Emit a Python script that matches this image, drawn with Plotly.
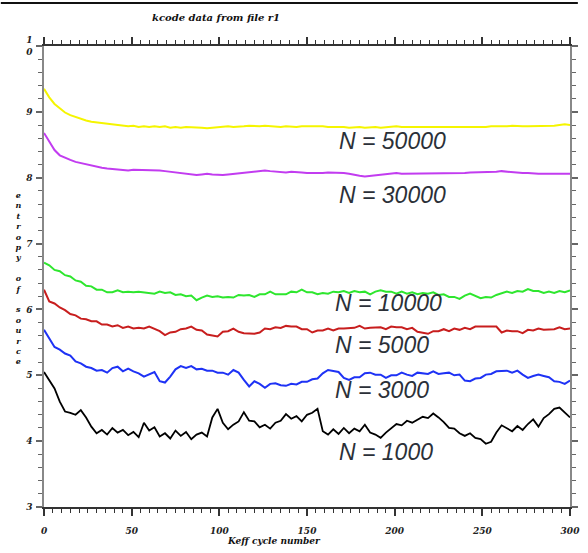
import plotly.graph_objects as go

# Keff cycle numbers at which the source entropy is sampled
cycles = list(range(0, 301, 3))

# Shannon entropy of the fission source, one list per histories-per-cycle setting
entropy_50000 = [
    9.35, 9.22, 9.12, 9.05, 8.99, 8.95, 8.92, 8.89, 8.87, 8.85, 8.84, 8.82, 8.81, 8.80,
    8.80, 8.79, 8.78, 8.79, 8.77, 8.78, 8.77, 8.78, 8.77, 8.78, 8.76, 8.77, 8.76, 8.77,
    8.77, 8.76, 8.76, 8.75, 8.76, 8.77, 8.77, 8.78, 8.77, 8.77, 8.78, 8.79, 8.78, 8.78,
    8.79, 8.78, 8.78, 8.77, 8.78, 8.77, 8.77, 8.78, 8.78, 8.79, 8.78, 8.78, 8.77, 8.77,
    8.78, 8.77, 8.76, 8.77, 8.77, 8.76, 8.77, 8.77, 8.76, 8.77, 8.78, 8.78, 8.77, 8.77,
    8.77, 8.76, 8.77, 8.77, 8.77, 8.76, 8.76, 8.77, 8.77, 8.76, 8.76, 8.76, 8.77, 8.77,
    8.77, 8.78, 8.78, 8.77, 8.78, 8.79, 8.78, 8.78, 8.78, 8.78, 8.79, 8.79, 8.79, 8.79,
    8.80, 8.81, 8.80,
]
entropy_30000 = [
    8.68, 8.55, 8.42, 8.34, 8.30, 8.27, 8.24, 8.22, 8.21, 8.18, 8.16, 8.15, 8.14, 8.13,
    8.12, 8.12, 8.11, 8.12, 8.12, 8.11, 8.11, 8.12, 8.11, 8.10, 8.09, 8.08, 8.07, 8.06,
    8.05, 8.04, 8.05, 8.06, 8.05, 8.04, 8.04, 8.05, 8.06, 8.06, 8.07, 8.08, 8.09, 8.10,
    8.11, 8.10, 8.09, 8.08, 8.08, 8.09, 8.09, 8.08, 8.07, 8.07, 8.06, 8.07, 8.08, 8.08,
    8.07, 8.07, 8.06, 8.04, 8.03, 8.02, 8.03, 8.04, 8.04, 8.05, 8.06, 8.07, 8.06, 8.06,
    8.06, 8.07, 8.07, 8.07, 8.06, 8.06, 8.06, 8.07, 8.07, 8.07, 8.07, 8.08, 8.08, 8.08,
    8.09, 8.09, 8.09, 8.10, 8.09, 8.09, 8.08, 8.07, 8.07, 8.06, 8.06, 8.06, 8.06, 8.06,
    8.06, 8.05, 8.06,
]
entropy_10000 = [
    6.71, 6.67, 6.60, 6.58, 6.52, 6.50, 6.44, 6.42, 6.36, 6.35, 6.30, 6.30, 6.26, 6.26,
    6.29, 6.26, 6.27, 6.26, 6.27, 6.26, 6.26, 6.24, 6.27, 6.25, 6.26, 6.22, 6.23, 6.20,
    6.21, 6.14, 6.18, 6.21, 6.19, 6.20, 6.18, 6.19, 6.18, 6.22, 6.21, 6.22, 6.19, 6.23,
    6.23, 6.27, 6.23, 6.23, 6.23, 6.27, 6.26, 6.30, 6.26, 6.26, 6.23, 6.25, 6.24, 6.27,
    6.26, 6.28, 6.25, 6.28, 6.26, 6.27, 6.23, 6.27, 6.29, 6.27, 6.27, 6.24, 6.27, 6.24,
    6.26, 6.23, 6.25, 6.24, 6.26, 6.22, 6.23, 6.19, 6.19, 6.16, 6.21, 6.24, 6.20, 6.17,
    6.19, 6.18, 6.22, 6.24, 6.27, 6.25, 6.28, 6.27, 6.31, 6.28, 6.28, 6.25, 6.27, 6.25,
    6.28, 6.26, 6.29,
]
entropy_5000 = [
    6.30, 6.12, 6.09, 6.03, 5.99, 5.93, 5.91, 5.86, 5.85, 5.82, 5.82, 5.77, 5.77, 5.74,
    5.76, 5.72, 5.74, 5.71, 5.72, 5.71, 5.74, 5.70, 5.67, 5.61, 5.65, 5.66, 5.70, 5.71,
    5.74, 5.69, 5.68, 5.62, 5.60, 5.59, 5.66, 5.67, 5.71, 5.66, 5.64, 5.64, 5.63, 5.65,
    5.71, 5.70, 5.73, 5.72, 5.75, 5.74, 5.74, 5.70, 5.70, 5.65, 5.68, 5.68, 5.71, 5.68,
    5.71, 5.71, 5.72, 5.72, 5.75, 5.71, 5.72, 5.72, 5.73, 5.70, 5.74, 5.73, 5.73, 5.70,
    5.72, 5.66, 5.64, 5.63, 5.67, 5.67, 5.70, 5.67, 5.71, 5.69, 5.72, 5.70, 5.74, 5.74,
    5.75, 5.74, 5.74, 5.65, 5.68, 5.67, 5.67, 5.64, 5.69, 5.68, 5.71, 5.69, 5.70, 5.70,
    5.73, 5.70, 5.71,
]
entropy_3000 = [
    5.69, 5.55, 5.43, 5.39, 5.33, 5.30, 5.21, 5.18, 5.13, 5.11, 5.07, 5.08, 5.04, 5.11,
    5.13, 5.06, 5.10, 5.06, 5.03, 4.98, 5.02, 5.05, 4.91, 4.89, 4.98, 5.09, 5.14, 5.11,
    5.14, 5.09, 5.10, 5.07, 5.07, 5.04, 5.04, 5.01, 5.08, 5.04, 4.93, 4.83, 4.91, 4.87,
    4.81, 4.87, 4.88, 4.85, 4.84, 4.87, 4.86, 4.90, 4.90, 4.94, 4.95, 5.03, 5.08, 5.06,
    5.05, 4.96, 4.93, 4.97, 4.97, 5.03, 5.04, 5.01, 5.01, 4.96, 5.00, 5.00, 5.04, 5.01,
    4.99, 5.04, 5.03, 5.02, 5.06, 5.02, 5.03, 5.04, 5.00, 5.01, 4.92, 4.91, 4.95, 4.96,
    5.01, 5.02, 5.06, 5.06, 5.07, 5.04, 5.07, 5.01, 4.96, 4.99, 5.01, 4.99, 4.97, 4.91,
    4.90, 4.87, 4.92,
]
entropy_1000 = [
    5.05, 4.93, 4.80, 4.60, 4.45, 4.43, 4.40, 4.47, 4.36, 4.22, 4.12, 4.17, 4.10, 4.20,
    4.13, 4.17, 4.09, 4.14, 4.06, 4.28, 4.16, 4.21, 4.07, 4.12, 4.04, 4.16, 4.08, 4.14,
    4.03, 4.10, 4.13, 4.07, 4.36, 4.49, 4.28, 4.18, 4.25, 4.30, 4.44, 4.31, 4.30, 4.21,
    4.25, 4.19, 4.28, 4.31, 4.41, 4.34, 4.38, 4.30, 4.40, 4.43, 4.49, 4.15, 4.10, 4.18,
    4.11, 4.20, 4.12, 4.19, 4.15, 4.25, 4.13, 4.10, 4.05, 4.13, 4.19, 4.26, 4.24, 4.31,
    4.28, 4.33, 4.37, 4.35, 4.42, 4.36, 4.29, 4.20, 4.19, 4.12, 4.08, 4.12, 4.05, 4.03,
    3.96, 3.99, 4.13, 4.24, 4.20, 4.15, 4.23, 4.17, 4.26, 4.33, 4.22, 4.35, 4.41, 4.49,
    4.51, 4.43, 4.36,
]

series_labels = ["N = 50000", "N = 30000", "N = 10000", "N = 5000", "N = 3000", "N = 1000"]
series_values = [entropy_50000, entropy_30000, entropy_10000, entropy_5000, entropy_3000, entropy_1000]
series_colors = ["#f5f500", "#c23cf0", "#2ee62e", "#c81e1e", "#1e32f5", "#000000"]

# where each "N = ..." label sits (pixel position of its left edge / vertical centre)
label_px = [(343, 141), (343, 195), (339, 303), (339, 345), (339, 390), (343, 452)]

title_text = "kcode data from file r1"
x_title = "Keff cycle number"
y_title = "entropy of source"

W, H = 588, 553
ML, MR, MT, MB = 44, 8, 46, 46
PW, PH = W - ML - MR, H - MT - MB


def px_x(px):
    return (px - ML) / PW


def px_y(py):
    return (H - MB - py) / PH


fig = go.Figure()
for name, vals, col in zip(series_labels, series_values, series_colors):
    fig.add_trace(go.Scatter(
        x=cycles, y=vals, mode="lines", name=name,
        line=dict(color=col, width=2 if col != "#000000" else 1.8),
        showlegend=False, hoverinfo="skip",
    ))

tick_font = dict(family="DejaVu Serif", size=9, color="#222", style="italic", weight="bold")

fig.update_xaxes(
    range=[0, 300], tickmode="array", tickvals=[0, 50, 100, 150, 200, 250, 300],
    ticks="outside", ticklen=7, tickwidth=1.5, tickcolor="#333",
    minor=dict(dtick=5, ticks="outside", ticklen=4, tickcolor="#333", tickwidth=1),
    showline=True, linecolor="#333", linewidth=1.5, mirror="ticks",
    showgrid=False, zeroline=False, tickfont=tick_font, ticklabelstandoff=7,
)
fig.update_yaxes(
    range=[3, 10], tickmode="array", tickvals=[3, 4, 5, 6, 7, 8, 9, 10],
    ticktext=["3", "4", "5", "6", "7", "8", "9", "1<br>0"],
    ticks="outside", ticklen=6, tickwidth=1.5, tickcolor="#666",
    minor=dict(dtick=0.2, ticks="outside", ticklen=4, tickcolor="#666", tickwidth=1),
    showline=True, linecolor="#888", linewidth=1.5, mirror="ticks",
    showgrid=False, zeroline=False, tickfont=tick_font, ticklabelstandoff=2,
)

annotations = []
for name, (lx, ly) in zip(series_labels, label_px):
    annotations.append(dict(
        x=px_x(lx), y=px_y(ly), xref="paper", yref="paper", xanchor="left", yanchor="middle",
        text=name, showarrow=False,
        font=dict(family="Liberation Sans", size=23, color="#2b3038", style="italic"),
    ))

annotations.append(dict(
    x=px_x(219), y=px_y(18), xref="paper", yref="paper", xanchor="center", yanchor="middle",
    text=title_text, showarrow=False,
    font=dict(family="DejaVu Serif", size=10, color="#111", style="italic", weight="bold"),
))
annotations.append(dict(
    x=px_x(278), y=px_y(541), xref="paper", yref="paper", xanchor="center", yanchor="middle",
    text=x_title, showarrow=False,
    font=dict(family="DejaVu Serif", size=9, color="#111", style="italic", weight="bold"),
))
annotations.append(dict(
    x=px_x(18), y=px_y(278), xref="paper", yref="paper", xanchor="center", yanchor="middle",
    text="<br>".join(y_title), showarrow=False,
    font=dict(family="DejaVu Serif", size=8, color="#111", style="italic", weight="bold"),
))

fig.update_layout(
    width=W, height=H,
    margin=dict(l=ML, r=MR, t=MT, b=MB, pad=0),
    paper_bgcolor="white", plot_bgcolor="white",
    annotations=annotations,
    shapes=[dict(type="line", xref="paper", yref="paper",
                 x0=px_x(0), x1=px_x(W), y0=px_y(3), y1=px_y(3),
                 line=dict(color="#111", width=2))],
)

fig.write_html("out.html")
